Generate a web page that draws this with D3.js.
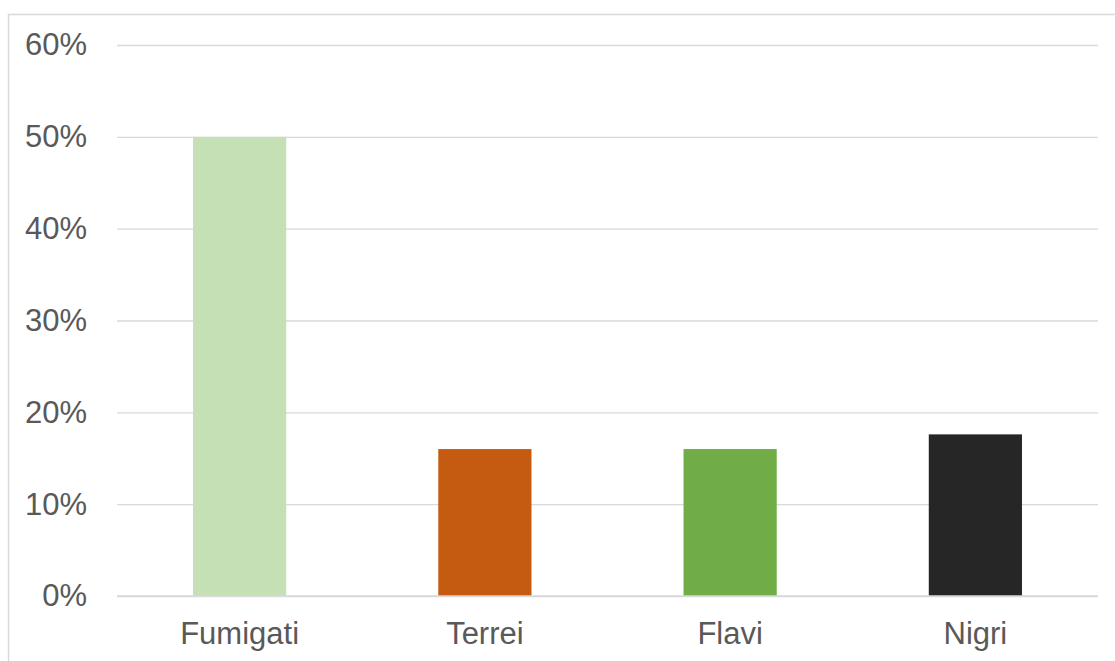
<!DOCTYPE html>
<html>
<head>
<meta charset="utf-8">
<script src="https://cdn.jsdelivr.net/npm/d3@7"></script>
<style>
  html, body { margin: 0; padding: 0; background: #fff; }
  svg { display: block; }
</style>
</head>
<body>
<svg id="chart" width="1115" height="661"></svg>
<script>
// Share of isolates per Aspergillus section
const categories = ["Fumigati", "Terrei", "Flavi", "Nigri"];
const values = [0.50, 0.16, 0.16, 0.176];
const barColors = ["#c5e0b4", "#c55a11", "#70ad47", "#262626"];
const yTicks = [0, 0.1, 0.2, 0.3, 0.4, 0.5, 0.6];

const svg = d3.select("#chart");
const W = 1115, H = 661;
const plot = { left: 117, right: 1098, top: 45, bottom: 596 };
const fontFamily = "'Liberation Sans', Arial, sans-serif";
const fontSize = "31px";

// Outer chart frame
svg.append("rect")
  .attr("x", 8.5).attr("y", 14.5)
  .attr("width", W + 10).attr("height", H + 10)
  .attr("fill", "#fff")
  .attr("stroke", "#d9d9d9").attr("stroke-width", 1.5);

const x = d3.scaleBand().domain(categories).range([plot.left, plot.right]).padding(0);
const y = d3.scaleLinear().domain([0, 0.6]).range([plot.bottom, plot.top]);

// Horizontal gridlines + percentage labels
const yAxis = d3.axisLeft(y)
  .tickValues(yTicks)
  .tickSize(-(plot.right - plot.left))
  .tickPadding(30)
  .tickFormat(d3.format(".0%"));

const gy = svg.append("g")
  .attr("transform", `translate(${plot.left},0)`)
  .call(yAxis);
gy.select(".domain").remove();
gy.selectAll(".tick line").attr("stroke", "#d9d9d9").attr("stroke-width", 1.4);
gy.selectAll(".tick text")
  .attr("fill", "#595959")
  .style("font-family", fontFamily)
  .style("font-size", fontSize);

// Bars
const barW = x.bandwidth() * 0.38;
svg.append("g").selectAll("rect")
  .data(categories)
  .join("rect")
  .attr("x", (d) => x(d) + (x.bandwidth() - barW) / 2)
  .attr("width", barW)
  .attr("y", (d, i) => y(values[i]))
  .attr("height", (d, i) => y(0) - y(values[i]))
  .attr("fill", (d, i) => barColors[i]);

// Zero line drawn over the bar bases
svg.append("line")
  .attr("x1", plot.left).attr("x2", plot.right)
  .attr("y1", y(0)).attr("y2", y(0))
  .attr("stroke", "#d9d9d9").attr("stroke-width", 1.4);

// Category labels
const xAxis = d3.axisBottom(x).tickSize(0).tickPadding(26);
const gx = svg.append("g")
  .attr("transform", `translate(0,${plot.bottom})`)
  .call(xAxis);
gx.select(".domain").remove();
gx.selectAll(".tick text")
  .attr("fill", "#595959")
  .style("font-family", fontFamily)
  .style("font-size", fontSize);
</script>
</body>
</html>
